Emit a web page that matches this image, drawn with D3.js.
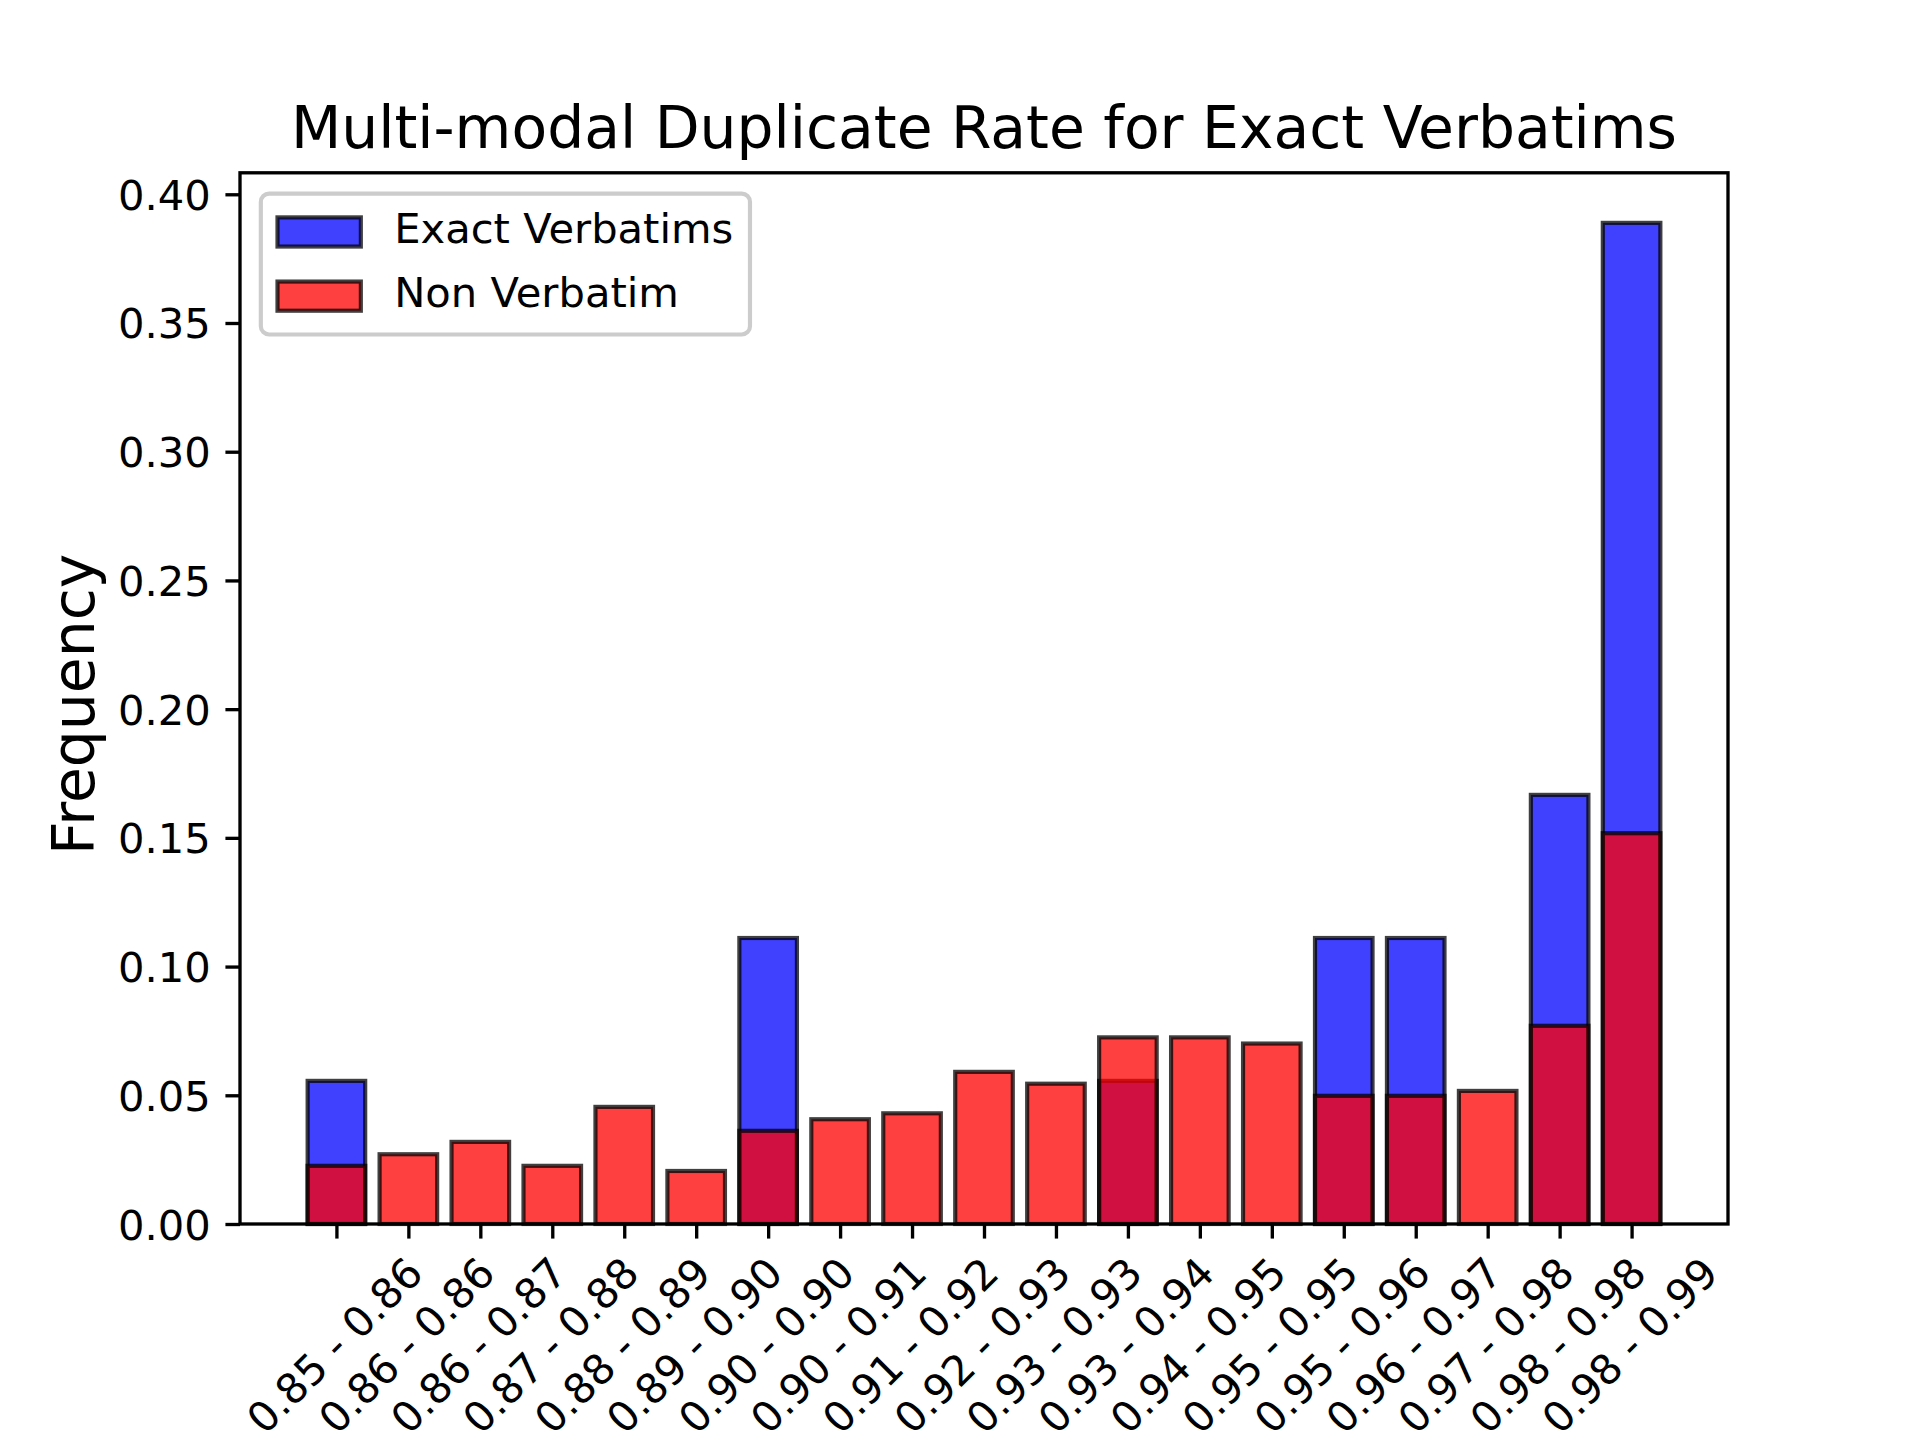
<!DOCTYPE html>
<html><head><meta charset="utf-8">
<script src="https://cdn.jsdelivr.net/npm/d3@7"></script>
<style>body{margin:0;background:#fff} text{font-family:"DejaVu Sans";fill:#000}</style>
</head><body><svg id="c" width="1920" height="1440"></svg>
<script>
const categories = ["0.85 - 0.86","0.86 - 0.86","0.86 - 0.87","0.87 - 0.88","0.88 - 0.89","0.89 - 0.90","0.90 - 0.90","0.90 - 0.91","0.91 - 0.92","0.92 - 0.93","0.93 - 0.93","0.93 - 0.94","0.94 - 0.95","0.95 - 0.95","0.95 - 0.96","0.96 - 0.97","0.97 - 0.98","0.98 - 0.98","0.98 - 0.99"];
const exactVerbatims = [0.0556,0,0,0,0,0,0.1111,0,0,0,0,0.0556,0,0,0.1111,0.1111,0,0.1667,0.3889];
const nonVerbatim = [0.0226,0.0271,0.0319,0.0226,0.0455,0.0206,0.0362,0.0407,0.0430,0.0591,0.0545,0.0725,0.0725,0.0701,0.0498,0.0498,0.0517,0.0770,0.1518];
const yTicks = [0,0.05,0.10,0.15,0.20,0.25,0.30,0.35,0.40];
const seriesNames = ["Exact Verbatims","Non Verbatim"];
const seriesColors = ["blue","red"];
const titleText = "Multi-modal Duplicate Rate for Exact Verbatims";
const yLabel = "Frequency";

const W=1920,H=1440;
const L=240,R=1728,T=172.8,B=1224;
const pt=300/72;
const fs=10*pt;
const svg=d3.select("#c");
const n=categories.length;
const barW=0.8;
const xm=0.05*(n-1+barW);
const x=d3.scaleLinear().domain([-barW/2-xm,n-1+barW/2+xm]).range([L,R]);
const ymax=d3.max(exactVerbatims.concat(nonVerbatim))*1.05;
const y=d3.scaleLinear().domain([0,ymax]).range([B,T]);

const edgeW=1*pt;
function drawBars(vals,color,cls){
  svg.append("g").selectAll("rect."+cls).data(vals.map((v,i)=>({v,i})).filter(d=>d.v>0)).join("rect")
    .attr("class",cls)
    .attr("x",d=>x(d.i-barW/2)).attr("width",d=>x(d.i+barW/2)-x(d.i-barW/2))
    .attr("y",d=>y(d.v)).attr("height",d=>y(0)-y(d.v))
    .attr("fill",color).attr("fill-opacity",0.75)
    .attr("stroke","black").attr("stroke-opacity",0.75).attr("stroke-width",edgeW);
}
drawBars(exactVerbatims,seriesColors[0],"ev");
drawBars(nonVerbatim,seriesColors[1],"nv");

// y axis
const yAx=svg.append("g").attr("transform",`translate(${L},0)`)
  .call(d3.axisLeft(y).tickValues(yTicks).tickFormat(d3.format(".2f")).tickSize(3.5*pt).tickPadding(3.5*pt));
yAx.select(".domain").remove();
yAx.selectAll(".tick line").attr("stroke","#000").attr("stroke-width",0.8*pt);
yAx.selectAll(".tick text").attr("font-size",fs).attr("font-family","DejaVu Sans").attr("dy","0.36em").attr("fill","#000");

// x axis
const xAx=svg.append("g").attr("transform",`translate(0,${B})`)
  .call(d3.axisBottom(x).tickValues(d3.range(n)).tickFormat(i=>categories[i]).tickSize(3.5*pt).tickPadding(0));
xAx.select(".domain").remove();
xAx.selectAll(".tick line").attr("stroke","#000").attr("stroke-width",0.8*pt);
const c45=Math.SQRT1_2, asc=0.760*fs, desc=0.208*fs, topY=3.5*pt+3.5*pt;
xAx.selectAll(".tick text").attr("font-size",fs).attr("font-family","DejaVu Sans").attr("fill","#000")
  .attr("text-anchor","start").attr("dy",null).attr("y",0)
  .each(function(){
    const w=this.getComputedTextLength();
    const tx=-c45*(w+desc-asc)/2, ty=topY+c45*(w+asc);
    d3.select(this).attr("transform",`translate(${tx},${ty}) rotate(-45)`);
  });

// frame
svg.append("rect").attr("x",L).attr("y",T).attr("width",R-L).attr("height",B-T)
  .attr("fill","none").attr("stroke","#000").attr("stroke-width",0.8*pt).attr("stroke-linejoin","miter");

// title
svg.append("text").attr("x",(L+R)/2).attr("y",T-6*pt).attr("text-anchor","middle")
  .attr("font-size",14*pt).text(titleText);

// y label
const ylfs=14*pt;
const ylx=L-7*pt-93-4*pt-0.968*ylfs+0.760*ylfs+5;
svg.append("text").attr("transform",`translate(${ylx},${(T+B)/2+6}) rotate(-90)`)
  .attr("text-anchor","middle").attr("font-size",ylfs).text(yLabel);

// legend
const lx=L+0.5*fs, ly=T+0.5*fs;
const rowH=1.04*fs;
const lg=svg.append("g");
const frame=lg.append("rect").attr("x",lx).attr("y",ly).attr("rx",0.2*fs).attr("ry",0.2*fs)
  .attr("fill","white").attr("fill-opacity",0.8).attr("stroke","#cccccc").attr("stroke-width",1*pt);
let maxW=0;
seriesNames.forEach((s,k)=>{
  const rt=ly+0.4*fs+k*(rowH+0.5*fs);
  const hx=lx+0.4*fs;
  lg.append("rect").attr("x",hx).attr("y",rt+rowH/2-0.35*fs).attr("width",2*fs).attr("height",0.7*fs)
    .attr("fill",seriesColors[k]).attr("fill-opacity",0.75).attr("stroke","black").attr("stroke-opacity",0.75).attr("stroke-width",edgeW);
  const t=lg.append("text").attr("x",hx+2*fs+0.8*fs).attr("y",rt+asc+1).attr("font-size",fs).text(s);
  maxW=Math.max(maxW,t.node().getComputedTextLength());
});
frame.attr("width",0.4*fs+2*fs+0.8*fs+maxW+0.4*fs).attr("height",0.8*fs+2*rowH+0.5*fs);
</script></body></html>
